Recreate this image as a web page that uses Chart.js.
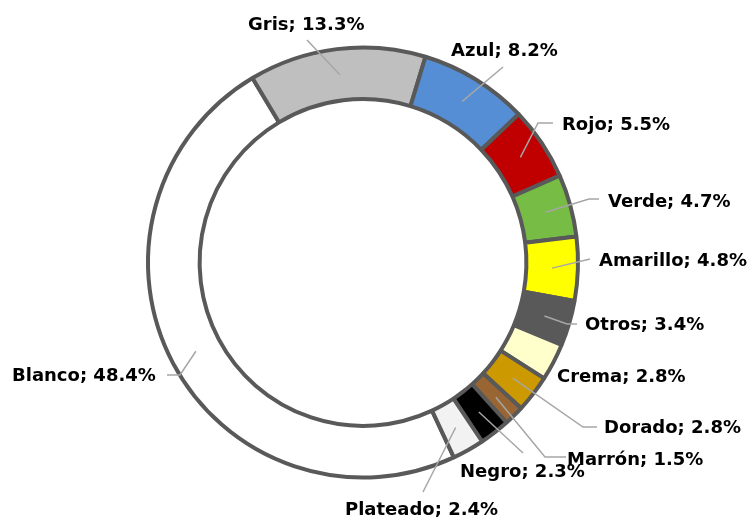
<!DOCTYPE html>
<html>
<head>
<meta charset="utf-8">
<script src="https://cdn.jsdelivr.net/npm/chart.js@4/dist/chart.umd.min.js"></script>
<style>
  html, body { margin: 0; padding: 0; background: #fff; }
  #wrap { width: 756px; height: 520px; position: relative; }
</style>
</head>
<body>
<div id="wrap"><canvas id="colorChart" width="756" height="520"></canvas></div>
<script>
// data
const colorNames = ['Blanco', 'Gris', 'Azul', 'Rojo', 'Verde', 'Amarillo', 'Otros', 'Crema', 'Dorado', 'Marrón', 'Negro', 'Plateado'];
const colorShares = [48.4, 13.3, 8.2, 5.5, 4.7, 4.8, 3.4, 2.8, 2.8, 1.5, 2.3, 2.4];
const sliceColors = ['#FFFFFF', '#BFBFBF', '#558ED5', '#C00000', '#77BC45', '#FFFF00', '#595959', '#FFFFCC', '#CC9900', '#996633', '#000000', '#F2F2F2'];

// label placement (text left/middle anchor + leader path ending at slice centre)
const labelLayout = [
  { x: 12,  y: 376, lead: [[167, 375], [180, 375]] },
  { x: 248, y: 25,  lead: [[307, 40]] },
  { x: 451, y: 51,  lead: [[503, 67]] },
  { x: 562, y: 125, lead: [[553, 123], [538, 123]] },
  { x: 608, y: 202, lead: [[599, 199], [589, 199]] },
  { x: 599, y: 261, lead: [[590, 259]] },
  { x: 585, y: 325, lead: [[577, 324], [567, 324]] },
  { x: 557, y: 377, lead: null },
  { x: 604, y: 428, lead: [[597, 427], [583, 427]] },
  { x: 567, y: 460, lead: [[566, 457], [545, 457]] },
  { x: 460, y: 472, lead: [[523, 453]] },
  { x: 345, y: 510, lead: [[423, 492]] }
];

const calloutPlugin = {
  id: 'callouts',
  afterDatasetsDraw(chart) {
    const ctx = chart.ctx;
    const arcs = chart.getDatasetMeta(0).data;
    ctx.save();
    ctx.strokeStyle = '#A6A6A6';
    ctx.lineWidth = 1.5;
    arcs.forEach((arc, i) => {
      const lay = labelLayout[i];
      if (!lay.lead) return;
      const c = arc.getCenterPoint();
      ctx.beginPath();
      ctx.moveTo(lay.lead[0][0], lay.lead[0][1]);
      for (let k = 1; k < lay.lead.length; k++) ctx.lineTo(lay.lead[k][0], lay.lead[k][1]);
      ctx.lineTo(c.x, c.y);
      ctx.stroke();
    });
    ctx.font = 'bold 18px "DejaVu Sans"';
    ctx.fillStyle = '#000000';
    ctx.textAlign = 'left';
    ctx.textBaseline = 'middle';
    colorNames.forEach((name, i) => {
      const lay = labelLayout[i];
      const text = name + '; ' + colorShares[i].toFixed(1) + '%';
      ctx.fillText(text, lay.x, lay.y);
    });
    ctx.restore();
  }
};

new Chart(document.getElementById('colorChart').getContext('2d'), {
  type: 'doughnut',
  data: {
    labels: colorNames,
    datasets: [{
      data: colorShares,
      backgroundColor: sliceColors,
      borderColor: '#595959',
      borderWidth: 4,
      borderAlign: 'center'
    }]
  },
  options: {
    responsive: false,
    animation: false,
    rotation: 155,
    cutout: '76%',
    layout: { padding: { left: 146, right: 176, top: 45, bottom: 40 } },
    plugins: {
      legend: { display: false },
      tooltip: { enabled: false }
    }
  },
  plugins: [calloutPlugin]
});
</script>
</body>
</html>
